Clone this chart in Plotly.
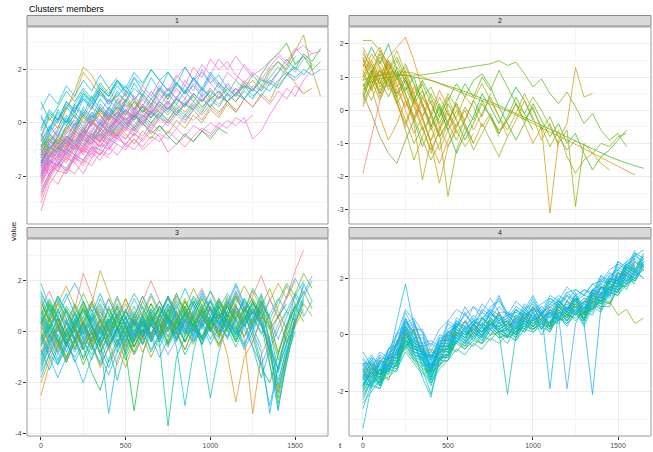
import plotly.graph_objects as go

# Sampling interval of every series (time units between consecutive values)
T_STEP = 50

# ---------------- cluster 1 ----------------
cluster1 = [
    [-1.8,-1.2,-0.9,-1.1,-0.4,-0.6,0.1,-0.3,0.2,0.5,0.1,0.4],
    [-2.6,-1.9,-1.5,-1.7,-1.2,-1.4,-0.9,-1.0,-0.6,-0.8],
    [-0.9,-0.3,0.2,-0.1,0.5,0.9,0.6,1.1,0.7,1.0,1.4,0.9,1.2],
    [-1.4,-1.6,-1.0,-0.7,-1.1,-0.5,-0.8,-0.2,-0.5,0.0,-0.3,0.3,0.0,0.4,0.1],
    [-3.3,-2.3,-1.8,-1.9,-1.3,-1.5,-1.0,-1.2,-0.7],
    [0.8,0.1,0.6,1.2,0.8,1.3,0.9,1.5,1.1,1.6,1.2,1.0],
    [-1.1,-0.6,-0.9,-0.3,0.4,0.0,0.6,0.3,-0.2,0.2,0.5,0.1,0.7,0.4,0.8,0.5,0.9],
    [-2.0,-1.4,-1.6,-1.1,-1.3,-0.8,-1.0,-0.5,-0.9,-0.4,-0.6,-0.2,-0.5,0.0,-0.3,0.1,-0.2,0.3,0.1,0.4],
    [-1.6,-0.8,-1.2,-0.6,0.0,-0.4,0.3,-0.1,0.5,0.2,0.8,0.4,1.0,0.6,1.3,0.9,1.5,1.1,1.7,1.2,1.8,1.4,1.0,1.3,0.9],
    [-0.6,0.2,-0.2,0.6,1.0,1.9,1.5,1.0,1.3,0.7,1.1,0.5,0.9],
    [-1.3,-0.7,-0.2,0.5,1.2,2.1,1.8,1.2,0.8,1.0,0.6,0.9,0.4,0.7],
    [-2.2,-1.5,-1.8,-1.2,-1.5,-1.9,-1.3,-1.0,-1.2,-0.8,-1.0,-0.6,-0.9,-0.5,-0.7,-0.3,-0.6,-0.9,-0.5,-0.2,-0.4,0.0,-0.2,0.2,0.0,0.3],
    [-1.5,-1.0,-0.6,-0.9,-0.3,-0.5,0.0,-0.2,0.3,0.1,0.5,0.2,0.6,0.4,0.8,0.5,0.9,0.7,1.1,0.8,1.2,0.9,1.3,1.0,1.4,1.2,1.6,1.5,1.9,2.4,2.0,2.6,2.3,2.8],
    [-0.7,-0.2,0.3,0.0,0.6,0.2,0.8,0.4,0.9,0.5,1.2,0.8,1.4,1.0,1.6,1.2,1.8,1.4,2.1,1.7,2.4,2.0,2.3,1.8,1.5,1.9,1.6,2.1,2.5,2.2,2.7,2.9,2.6,2.7],
    [-1.9,-1.2,-1.4,-0.8,-1.0,-0.5,-0.7,-0.2,-0.5,-0.1,-0.4,-0.8,-0.3,-0.6,-0.1,-0.4,0.1,-0.2,0.3,0.0,0.5,0.2,0.7,0.4,0.9,0.6,1.1,0.8,1.5,2.1,2.7,3.3,2.0,1.0],
    [-1.2,-0.5,-0.8,-0.2,0.1,-0.3,0.2,0.5,0.1,0.4,0.0,0.3,0.6,0.2,0.5,0.8,0.4,0.7,1.0,0.6,0.9,1.2,0.8,1.1,1.5,1.2,1.8,2.3,2.6,3.0,2.2,2.5,2.0,2.3],
    [-2.1,-1.4,-1.6,-1.0,-1.2,-0.6,-0.8,-0.3,-0.6,-0.1,0.2,-0.2,0.3,0.0,0.4,0.1,0.6,0.3,0.7,0.4,0.9,0.6,1.1,0.8,1.2,0.9,1.4,1.2,1.6,1.9,1.7,2.0,1.8,2.0],
    [-0.3,0.4,0.1,0.8,0.5,1.1,0.8,1.3,1.0,1.5,1.2,1.7,1.4,2.0,1.6,1.9,1.5,1.2,1.6,1.3,0.9,1.2,0.8,1.1,1.4,1.0,1.3,1.7,2.1,1.8,2.2,2.5,2.2],
    [-1.7,-1.1,-1.3,-0.7,-0.9,-0.4,-0.6,-0.3,-0.7,-0.4,-0.9,-0.6,-1.0,-0.7,-0.4,-0.6,-0.2,-0.5,-0.1,-0.3,0.0,-0.2,0.1,-0.1,0.2,-0.6,-0.3,0.3,0.8,1.3,1.0,1.6,2.0],
    [-1.0,-0.4,-0.7,-0.1,-0.4,0.2,-0.1,0.4,0.1,0.6,0.3,0.8,0.5,0.2,0.6,0.3,0.7,0.4,0.8,0.5,1.0,0.7,1.1,0.8,1.3,1.6,1.2,1.9,2.3,1.9,1.5,1.1,1.3],
    [-1.3,-0.9,-0.4,-0.7,-0.2,-0.5,0.1,-0.2,0.4,0.0,0.5,0.2,0.7,0.3,0.9,1.3,0.9,1.6,1.2,2.0,1.5,1.1,1.4,1.0,1.5,1.2,1.7,1.4,1.9,2.2,1.9,2.4,2.6],
    [-2.4,-1.6,-1.8,-1.3,-1.5,-1.0,-1.2,-0.7,-1.0,-0.5,-0.8,-0.4,-0.7,-0.3,-0.5,-1.1,-0.8,-0.5,-0.7,-0.3,-0.5,-0.1],
    [-0.5,0.3,0.0,0.7,0.4,1.1,0.7,1.3,1.0,1.6,1.3,1.9,1.5,2.0,1.6,1.2,1.5,1.1,1.4,1.0,1.3],
    [-1.0,-0.5,-0.1,-0.4,0.2,-0.1,0.4,0.1,0.6,0.3,0.9,0.5,1.1,0.7,1.4,1.0,1.7,2.1,1.6,2.2,1.8,2.4,2.0,2.5,2.1,1.7],
    [-1.5,-0.9,-1.1,-0.5,-0.7,-0.2,-0.5,0.0,-0.3,0.2,-0.1,0.3,0.0,-0.4,-0.1,-0.5,-0.8,-0.4,-0.7,-0.3,-0.6,-0.2,-0.4],
    [0.5,1.1,0.7,1.4,1.0,1.6,1.2,1.8,1.3,1.7],
    [-2.8,-2.0,-2.3,-1.7,-1.9,-1.4,-1.6,-1.1,-1.3],
    [-1.2,-1.8,-1.4,-0.9,-1.2,-0.6,-0.9,-0.4,-0.7,-0.2,-0.5],
    [-0.4,-1.0,-0.5,0.1,-0.3,0.4,0.0,0.6,0.2,0.7,0.3],
    [-2.0,-1.3,-0.8,-1.2,-0.7,-1.0,-0.4,-0.7,-0.2,-0.5,0.0,-0.3,0.1,-0.2],
    [-1.7,-1.0,-0.5,-0.8,-0.3,0.3,-0.1,0.6,0.2,0.8,0.4,1.0,0.6,1.2,0.8,1.3,0.9,1.4,1.0],
    [-0.8,-1.3,-0.7,-1.0,-0.5,-0.8,-0.3,-0.6,-0.1,-0.4,0.1,-0.2,0.3,0.0,0.4,0.1,0.5,0.2,0.6,0.3,0.7,0.4,0.8,0.5],
    [-3.0,-2.1,-1.6,-1.9,-1.3,-1.0,-1.3,-0.8,-1.0,-0.6,-0.8,-0.4,-0.6,-0.2],
    [-1.9,-1.3,-0.9,-1.2,-0.6,-0.9,-0.4,-0.7,-0.2,-0.5,0.0,-0.3,0.2,-0.1,0.3,0.0,0.4,0.1,0.5],
    [0.3,-0.4,0.1,0.6,0.2,0.9,0.5,1.2,0.8,1.4,1.0,1.7,1.2,0.9,1.3,1.0,1.5,1.1,1.7,1.3,1.9,1.5,1.2],
    [-1.4,-2.0,-1.5,-1.8,-1.3,-1.6,-1.1,-1.4,-0.9,-1.2,-0.8,-1.0,-0.6],
    [-0.9,-0.2,0.4,0.0,0.7,0.3,1.0,0.5,0.2,0.6,0.3,0.8,0.4,0.9,0.6,1.1,0.7,1.2,0.8,1.3,1.0,1.5,1.1,1.6,1.3,1.8,1.4,2.0,2.3,2.0,2.5],
    [-2.3,-1.6,-1.0,-1.3,-0.8,-1.1,-0.6,-0.9,-0.4,-0.6,-0.2,-0.5,0.0,-0.3,0.2,-0.1,0.3,0.0,0.5,0.1,0.6,0.3,0.8,0.4,0.9,0.6,1.0,0.7,1.2,0.9,1.4,1.1],
    [-1.5,-0.7,-0.3,0.3,-0.1,0.6,0.2,0.9,0.5,1.2,0.8,1.5,1.0,1.7,1.2,1.9,1.4,2.1,1.6,1.9,1.5,1.8,1.3],
    [-1.1,-1.6,-1.2,-0.6,-0.9,-0.3,-0.6,0.0,-0.3,0.2,-0.1,0.4,0.1,0.5,0.2,0.7,0.3,0.8,0.5,1.0,0.6,1.1,0.8,1.3,0.9,1.4,1.2,1.6,1.4,1.8,1.6,1.9],
    [-1.0,-0.4,-0.8,-0.1,0.3,-0.2,0.4,0.0,0.6,0.2,0.8],
    [-2.2,-1.7,-1.2,-1.5,-0.9,-1.1,-0.6,-0.9,-0.3,-0.6],
    [-0.2,0.5,0.1,0.8,0.4,1.0,0.6,1.2,0.7,1.1,0.8,1.3,1.0],
    [-1.5,-1.9,-1.3,-1.0,-0.6,-0.9,-0.4,-0.7,-0.2,0.1,-0.3,0.2],
    [-0.6,-1.1,-0.5,-0.8,-0.2,0.3,0.0,0.5,0.1,0.4,0.9,0.5,1.1,0.7,1.2,0.9,1.4],
    [-2.7,-2.0,-1.5,-1.1,-1.4,-0.9,-1.1,-0.6,-0.8],
    [0.2,-0.3,0.5,0.0,0.7,1.2,0.8,1.4,1.0,1.6,1.1],
    [-1.8,-1.1,-1.5,-0.9,-0.5,-0.8,-0.3,0.1,-0.2,0.3,0.0,0.5,0.2,0.6,0.3,0.8,0.5,0.9,0.6,1.1,0.8],
    [-1.2,-0.6,-1.0,-0.5,-0.8,-0.3,-0.6,0.0,-0.4,0.1,-0.2,0.3,-0.1,0.4,0.2,0.6,0.3,0.7,0.5,0.9,0.6,1.0,0.8,1.1,0.9,1.3,1.0,1.5,1.3,1.8,2.1,1.8,2.2],
    [-1.4,-0.8,-0.3,-0.7,0.0,-0.4,0.3,-0.1,0.5,0.1,0.7,0.3,0.9,0.5,1.1,0.7,1.3,0.9,1.5,1.1,1.7,1.3,1.9,1.6,2.2,1.8,2.0,2.3,2.6,2.3,2.8,2.5],
    [-2.1,-1.5,-1.1,-1.4,-0.8,-1.0,-0.5,-0.7,-0.3,-0.5,-0.1,-0.4,0.1,-0.2,0.2,0.0,0.4],
    [-0.7,-0.1,-0.5,0.2,-0.2,0.5,0.1,0.7,0.3,0.9,0.4,0.1,0.5,0.2,0.7,0.4,0.9,0.6,1.1,0.8,1.2],
    [-1.9,-1.2,-0.7,-1.0,-0.4,-0.7,-0.2,-0.5,0.0,-0.3,0.2,-0.1,0.4,0.1],
    [-1.0,-1.5,-0.9,-0.6,-1.0,-0.4,-0.1,-0.5,0.1,-0.2,0.3],
    [-1.6,-1.2,-0.6,-0.9,-0.3,-0.6,0.0,-0.3,0.3,0.0,0.5,0.2,0.7,0.3,0.8,0.5,1.0,0.6,1.1,0.8,1.3,0.9,1.5,1.1,1.6,1.3],
    [-2.0,-1.4,-1.7,-1.1,-0.8,-1.2,-0.7,-0.4,-0.8,-0.3,-0.6,-0.1],
    [-1.6,-1.0,-1.3,-0.6,-0.9,-0.3,-0.6,0.0,-0.4,0.1,-0.2,0.4,0.0,0.5],
    [-0.8,-1.4,-0.9,-0.5,-0.8,-0.2,0.1,-0.3,0.2,-0.1,0.4,0.0],
    [-2.5,-1.9,-1.5,-1.8,-1.2,-1.4,-0.9,-1.2,-0.7],
    [-1.3,-0.7,-1.0,-0.4,-0.1,-0.5,0.0,0.3,-0.1,0.4,0.1,0.6,0.2,0.7,0.4,0.9],
]
colors1 = [
    "#FF61C3","#00BFC4","#00B0F6","#F564E3","#FF6C91","#00C08B","#7CAE00","#C77CFF","#00A9FF",
    "#DE8C00","#B79F00","#FF64B0","#00BA38","#FF61C3","#A3A500","#39B600","#00A9FF","#00BFC4",
    "#F564E3","#E58700","#C77CFF","#FF64B0","#00BCD8","#E76BF3","#00BA38","#00B4F0","#FF6C91",
    "#F8766D","#00C1A3","#FD61D1","#619CFF","#7CAE00","#FF61C3","#00BFC4","#00B0F6","#F564E3",
    "#00C08B","#FF64B0","#00BCD8","#9590FF",
    "#00BFC4","#FF61C3","#00B0F6","#F564E3","#7CAE00","#FF64B0","#00BCD8","#C77CFF","#00C08B",
    "#E76BF3","#FF6C91","#00A9FF","#FD61D1","#619CFF","#FF61C3",
    "#FF61C3","#F564E3","#FF6C91","#FD61D1","#FF64B0",
]

# ---------------- cluster 2 ----------------
cluster2 = [
    [2.1,2.1,1.8,1.4,1.0,1.3,0.8,0.4,0.7,0.1,-0.4],
    [1.2,1.5,1.0,1.6,1.9,2.2,1.5,0.6,-0.2,-0.8,-0.4,0.2,-0.3],
    [0.75,0.85,0.95,1.0,1.05,1.05,1.05,1.07,1.1,1.15,1.2,1.25,1.28,1.32,1.36,1.4,1.5,1.35,1.45,1.1,0.7,0.95,0.5,0.2,0.55,0.1,-0.4,-0.1,-0.6,-0.9,-0.7,-1.1],
    [0.9,1.0,1.05,1.1,1.1,1.05,1.0,0.95,0.9,0.82,0.74,0.65,0.56,0.46,0.36,0.25,0.14,0.02,-0.1,-0.22,-0.34,-0.46,-0.58,-0.7,-0.82,-0.94,-1.06,-1.18,-1.3,-1.4,-1.5,-1.6,-1.68,-1.75],
    [0.6,0.9,1.1,1.15,1.15,1.15,1.12,1.0,0.9,0.8,0.7,0.6,0.5,0.4,0.3,0.2,0.1,-0.02,-0.15,-0.28,-0.4,-0.52,-0.65,-0.78,-0.9,-1.03,-1.16,-1.29,-1.42,-1.55,-1.68,-1.8,-1.95],
    [0.6,1.2,0.4,1.0,0.2,-0.5,0.3,-0.2,0.5,0.0,-0.6,-0.2,0.4,0.1,-0.5,-0.1,-0.7,-0.3,0.2,-0.4,-1.0,-0.5,-3.1,-0.9,-0.4,1.3,0.4,0.5],
    [1.5,0.9,0.3,1.0,0.4,-0.3,-1.0,-0.5,-1.2,-0.6,-0.1,-0.5,0.1,-0.3,0.3,-0.2,-0.6,-0.3,0.2,-0.1,0.4,0.0,-0.5,-1.0,-0.6,-2.9,-1.0,-1.3,-1.0,-1.1,-0.8,-0.7],
    [1.8,1.2,0.5,1.1,0.3,-0.6,-1.5,-0.8,-0.1,-0.7,-2.6,-1.2,-0.5,-1.0,-0.4,-0.9,-1.4,-0.8],
    [1.0,1.7,1.3,0.6,1.1,0.3,-0.4,-2.1,-0.9,-0.2,0.4,-0.3],
    [0.3,1.1,0.6,1.4,0.8,0.0,-0.7,-0.2,-1.0,-1.6,-0.9,-0.4],
    [1.3,1.9,1.4,2.0,1.2,0.6,1.0,0.2,-0.5,0.1,-0.6,-1.3,-0.7,-0.2,0.5,0.1,-0.4,0.2,0.7,0.3,-0.3],
    [-1.9,-0.8,0.3,0.9,0.5,1.0,0.4],
    [1.6,0.7,1.5,0.9,0.2,-0.4,0.3,-0.3,-0.9,-0.5,0.0,-0.6,-1.1,-0.7],
    [0.7,1.2,0.8,1.5,1.1,0.5,-0.3,-1.1,-0.5,0.2,-0.4,0.3,0.8,0.4,1.0,0.6,1.2,0.7,0.2,-0.3,0.1,-0.6,-0.2,-0.8,-1.2,-0.9],
    [0.5,-0.1,-0.8,-1.3,-1.6,-0.9,-0.3,0.2,-0.4],
    [1.4,1.0,1.6,1.2,0.5,1.0,0.4,-0.2,-1.0,-2.2,-1.1,-0.5,0.0,-0.6,-0.1,0.4,-0.2,-0.8,-0.3,0.3,-0.2,-0.9,-0.4,-1.1],
    [0.2,0.8,1.2,0.7,1.3,0.9,0.3,0.9,0.4,-0.2,0.3,0.8,0.4,0.9,1.1,0.7,0.1,-0.4,-0.9,-0.4,0.2,-0.3,-0.8,-0.4,-1.0,-0.7,-1.3,-1.8,-1.4,-1.2,-0.9,-0.6],
    [1.1,0.6,1.2,0.8,0.2,0.7,0.1,-0.6,-0.2,0.4,-0.1,-0.7,-0.3,0.3,0.8,0.3,-0.2,-0.6,-0.1,0.5,0.0,-0.5,-1.1,-0.6,-1.4,-1.9,-1.5,-1.3,-1.6,-1.8],
    [1.7,1.3,0.8,1.4,1.0,0.3,-0.2,0.4,-0.1,0.6,0.1],
    [0.9,1.4,0.9,0.4,1.0,0.5,-0.2,-0.9,-1.5,-1.0,-0.4,-0.9,-0.3,0.3,-0.2,0.5],
    [0.1,0.7,-0.2,-0.9,-0.4,0.3,-0.3,0.4,-0.1],
    [1.9,1.4,0.7,1.2,1.8,1.1,0.5,0.9],
    [1.0,1.5,1.9,1.3,0.7,1.2,0.5,-0.2,0.3,-0.5,-1.1,-0.6],
    [0.4,1.0,0.5,1.2,1.6,1.0,0.2,0.6,-0.1,-0.8,-0.3,0.2,-0.4,-1.0],
    [1.6,1.1,1.8,1.2,0.6,0.1,0.7,0.2,-0.5,-1.2,-0.6,0.0,-0.5],
    [0.8,0.3,1.0,1.5,0.9,1.4,0.8,0.1,-0.6,-0.1,0.5,0.1,-0.5,-1.2,-0.7,-0.2,-0.8],
    [1.2,0.6,1.3,0.9,1.5,0.8,0.2,-0.5,-1.3,-0.6,0.1],
    [0.5,1.1,1.7,1.1,0.4,0.9,0.3,0.8,0.2,-0.4,0.2,-0.3,-0.9,-0.4,0.2,-0.2,-0.7,-0.2,0.4,-0.1,-0.6],
]
colors2 = [
    "#7CAE00","#E58700","#5BB300","#39B600","#DE8C00","#C99800","#7CAE00","#A3A500","#B79F00",
    "#E38900","#00BA38","#F8766D","#D89000","#5BB300","#7F9030","#C49A00","#39B600","#9EA700",
    "#E58700","#6BB100","#DE8C00","#B79F00","#C99800","#6BB100","#E58700","#8FAA00","#D39200",
    "#4DB400",
]

# ---------------- cluster 3 ----------------
cluster3 = [
    [0.5,-0.3,0.6,1.3,1.9,1.2,0.4,0.9,0.1,-0.6,0.2,-0.4,0.5,1.1,0.6,1.3,0.7,0.2,0.8,1.4,0.9,0.3,1.0,0.5,1.2,0.6,-0.1,0.7,1.3,0.8,1.5,1.0],
    [-0.2,0.6,-0.3,-1.1,-0.4,0.3,-0.5,-1.3,-0.6,0.2,-0.4,0.5,0.0,0.7,-0.5,-3.7,-1.0,-0.2,0.5,-0.3,0.4,1.0,0.3,-0.4,0.3,-0.6,-1.8,-0.7,0.1,0.8,0.4],
    [1.3,0.4,1.2,0.5,-0.4,0.3,1.1,2.4,1.5,0.6,1.3,0.4,-0.3,0.5,1.2,0.5,1.3,0.8,0.2,1.0,0.4,1.2,0.6,1.5,0.9,0.3,1.1,-0.5,-2.8,-1.2,0.3,1.1,0.6],
    [-1.0,-0.2,0.5,-0.3,-1.2,-0.5,0.3,-0.4,-3.2,-1.1,-0.3,0.4,-0.2,0.6,0.1,0.9,0.3,1.0,0.4,-0.3,0.5,0.1,0.8,0.2,-0.6,0.3,0.9,-1.2,-3.1,-1.0,0.6,1.9,1.2],
    [0.2,1.1,0.6,-0.1,0.7,1.5,0.8,0.0,0.9,0.3,-0.5,0.4,1.2,0.5,-0.2,0.6,1.4,0.9,1.7,1.0,0.4,1.2,0.6,1.4,0.7,0.2,1.0,1.7,0.8,0.1,1.5,2.3,1.7],
    [-0.6,0.2,-0.5,0.4,-0.3,-1.0,-0.2,0.5,-0.4,0.1,-0.8,-3.1,-0.9,0.3,-0.3,0.6,0.0,-0.7,0.1,0.8,0.2,1.0,0.3,-0.4,0.5,1.2,0.4,-0.8,-2.4,-0.9,0.4,1.2],
    [0.9,1.6,0.8,0.1,0.9,2.3,1.4,0.6,1.3,0.5,1.1,0.3,1.2,2.0,1.2,0.4,1.0,0.3,1.1,1.7,0.9,0.2,0.8,1.5,0.7,1.4,2.2,1.3,0.5,1.3,2.4,3.2],
    [-1.5,-0.6,-1.2,-0.4,-1.1,-2.0,-1.0,-0.3,-1.2,-0.5,0.2,-0.6,0.1,-0.7,-0.1,0.6,-0.2,0.5,-0.3,0.3,-0.5,0.2,0.8,0.1,-0.7,0.0,-1.2,-2.9,-1.4,-0.5,0.3],
    [0.0,-0.8,0.1,0.9,0.2,-0.5,0.3,1.0,0.2,-0.4,0.4,-0.3,0.5,-0.2,0.7,1.4,0.6,1.3,0.5,-0.2,0.6,1.3,0.7,0.0,0.8,1.6,0.9,0.2,1.0,1.8,1.1],
    [-2.5,-1.3,-0.5,-1.2,-0.4,0.3,-0.5,-1.4,-0.6,0.1,-0.7,0.0,-0.8,-0.1,0.6,-0.2,0.5,-0.4,0.3,-0.3,0.4,-0.2,0.5,1.1,-0.3,-3.2,-0.9,-0.2,0.6,-0.4,0.2,0.9],
    [0.6,-0.2,0.5,-0.4,0.4,1.2,0.3,-0.5,0.2,1.0,0.3,-0.6,0.1,-0.8,-0.1,0.7,0.0,-0.9,-0.2,0.6,1.2,0.4,-0.3,0.5,1.3,0.7,1.4,0.2,-1.6,-0.4,0.5],
    [1.6,0.8,0.0,0.8,0.1,0.9,0.2,-0.6,0.3,1.1,0.5,1.3,0.6,-0.1,0.7,1.4,0.8,0.1,0.9,1.6,0.9,0.3,1.0,1.8,1.0,0.4,1.1,0.5,-0.3,0.6,1.4,0.7],
    [-0.4,0.5,-0.2,-1.0,-0.3,-1.3,-0.5,0.2,-0.6,0.1,-0.9,-0.2,0.5,-0.3,0.4,-0.4,0.3,1.0,0.2,0.9,0.1,0.7,0.0,0.8,0.2,0.9,0.3,-0.6,-1.5,0.0,1.0,0.4],
    [0.3,1.0,0.2,-0.5,0.4,-0.3,0.6,-0.1,0.5,-0.2,0.0,0.7,-0.1,0.6,-0.2,0.5,-0.6,-2.9,-0.8,0.5,1.2,0.5,-0.2,0.6,1.3,0.6,1.5,0.5,-0.9,0.3,1.1,0.6,1.2],
    [-1.8,-0.9,-0.1,-0.8,0.0,-0.7,0.1,-0.6,-1.4,-0.5,0.3,-0.4,0.4,-0.2,-1.0,-0.3,0.4,-0.4,0.3,-0.5,0.2,-0.3,0.5,-0.1,0.6,0.0,-0.8,-3.2,-1.3,-0.2,0.7],
    [1.0,0.2,1.1,1.8,1.0,0.3,1.1,0.4,-0.3,0.5,1.3,0.6,1.4,0.7,0.0,0.8,1.5,0.8,0.2,0.9,1.6,1.0,0.3,1.1,1.8,1.2,0.5,1.2,1.9,1.3,2.0],
    [-0.9,-0.1,-0.8,0.0,0.8,0.0,-0.7,0.1,-0.6,-1.9,-0.7,0.1,-0.5,0.3,-0.4,0.4,-0.3,0.5,-0.1,0.6,0.0,0.7,0.1,-0.6,0.2,0.8,0.3,-1.3,-2.6,-1.0,0.0],
    [0.4,-0.5,-1.3,-0.6,0.2,-0.7,0.0,-0.9,-1.7,-0.8,-0.1,-0.9,-0.2,0.6,-0.1,0.7,0.0,0.8,0.1,0.9,0.2,-0.5,0.3,1.0,0.4,1.1,0.5],
    [-0.3,0.4,1.1,0.3,1.0,0.2,-0.6,0.1,0.9,0.1,0.8,0.0,0.7,-0.1,0.6,1.3,0.5,-0.2,0.6,1.3,0.6,-0.1,0.7,0.1,0.9,0.2,1.0,0.2,-1.1,-0.2,0.8,1.6,0.9],
    [1.9,1.0,0.2,0.9,0.1,-0.7,0.1,0.8,0.0,-0.8,0.0,0.7,-0.1,0.6,-0.2,0.5,-0.3,0.4,1.1,0.4,-0.3,0.5,1.2,0.5,-0.2,0.6,0.0],
    [-1.2,-0.4,0.3,-0.5,0.2,-0.6,-1.6,-2.3,-1.1,-0.3,-1.1,-0.3,0.4,-0.4,0.3,-0.5,0.2,-0.4,0.4,-0.3,0.5,-0.2,0.6,-0.1,0.7,-0.2,-1.4,-2.0,-0.9,0.2,1.0],
    [0.1,0.9,0.2,-0.6,0.3,1.1,0.2,-0.5,0.4,1.3,0.5,-0.2,0.6,1.4,0.7,0.0,0.8,0.1,-0.5,0.3,1.0,0.3,1.1,0.4,-0.2,0.5,1.3,0.4,-0.8,0.3],
    [-0.7,-1.5,-0.6,0.1,-0.7,0.2,-0.5,-1.2,-0.3,0.4,0.3,-0.4,0.4,-0.3,0.5,-0.2,0.6,-0.1,0.7,-0.6,-2.6,-0.8,0.3,0.1,1.0,0.2,-0.6],
    [0.8,0.0,0.8,1.5,0.7,0.0,0.7,-0.1,0.6,1.4,0.6,-0.1,0.7,1.5,0.8,0.1,0.9,1.7,1.0,0.2,1.0,0.3,1.1,1.9,1.1,0.4,1.2,0.6],
    [-0.1,-0.9,-0.2,0.5,-0.3,0.4,-0.4,0.3,-0.5,0.2,-0.6,0.1,-0.4,0.4,-0.2,-0.9,-0.3,0.5,-0.2,0.6,0.0,0.8,0.2,1.0,0.3,-0.4,0.5,1.3,0.6,1.4,2.1,1.5,2.2],
    [1.2,0.4,-0.4,0.3,1.1,0.4,-0.4,0.2,-0.6,0.1,0.9,0.2,-0.5,0.3,1.0,0.3,-0.4,0.4,1.2,0.6,1.3,0.6,0.0],
    [-2.0,-1.1,-0.3,-1.0,-0.2,0.6,-0.1,-0.9,-0.1,0.7,-0.1,-0.9,-0.2,0.6,-0.1,0.7,0.0,-0.7,0.1,0.8,0.1,-0.6,0.2,0.9],
    [0.5,1.3,0.6,-0.2,0.5,1.2,0.5,-0.3,0.4,-0.5,0.3,1.0,0.3,-0.4,0.4,1.1,0.4,1.2,0.5,-0.2,0.6,1.3,0.6,1.4,0.7,0.0,0.8,-0.3,-2.1,-0.5,0.9,1.8],
    [-0.5,0.3,-0.4,-1.2,-0.4,0.4,-0.3,0.5,-0.2,0.6,-0.1,-0.8,0.0,0.8,0.0,0.9,0.1,0.9,0.2,-0.5,0.3,1.0,0.4,-0.3,0.5,1.2,0.6],
    [0.7,-0.1,-0.9,-0.1,0.7,-0.1,0.7,1.5,0.7,-0.1,0.6,-0.2,0.6,-0.2,0.6,1.4,0.6,-0.1,0.7,1.5,0.8,0.0,0.8,1.6,0.9,0.1,0.9],
    [-1.4,-0.6,0.2,-0.6,0.1,-0.7,0.0,-0.8,-0.1,0.7,-0.1,0.6,-0.2,-1.0,-0.2,0.6,-0.1,0.7,0.0,0.8,0.1,-0.5,0.2,0.9,0.3,1.0,0.4],
    [0.0,0.7,1.4,0.7,0.0,0.8,0.0,-0.8,0.0,0.8,0.1,-0.6,0.1,0.9,0.2,1.0,0.3,-0.4,0.3,1.1,0.4,1.2,0.5,-0.2],
    [-0.8,0.0,-0.7,0.1,-0.6,0.3,-0.5,0.4,-0.4,-1.3,-0.4,0.5,-0.3,0.6,-0.2,0.7,-0.1,0.8,0.0,0.9,0.1,0.2,-0.9,-2.75,-1.0,-0.4,0.6,-0.9,-2.4,-0.8,0.5],
    [1.4,0.6,1.3,0.5,-0.3,0.4,1.2,0.4,1.3,0.5,-0.2,0.6,1.4,0.6,-0.1,0.7,1.5,0.7,0.0,0.8,1.6,0.8],
    [-0.2,-1.0,-1.8,-1.0,-0.2,-1.1,-0.3,0.5,-0.3,0.5,-0.4,0.4,-0.5,0.4,-0.4,0.5,-0.3,0.6,-0.2,0.7,0.0,0.8,0.1,0.9],
    [0.3,1.1,0.3,-0.5,0.2,1.0,0.2,-0.6,0.2,1.0,0.2,-0.6,0.3,1.1,0.3,-0.5,0.4,1.2,0.5,1.3,0.6,-0.1,0.7],
    [-1.1,-0.3,-1.1,-0.3,0.5,-0.3,-1.1,-0.3,0.5,-0.2,0.6,-0.2,0.6,-0.1,0.7,0.0,0.8,0.0,0.8,0.1,0.9,0.2,1.0,0.3,-0.5,0.4,1.2,-0.4,-3.0,-1.2,0.3,1.3],
    [0.9,0.1,0.9,0.1,-0.7,0.1,0.9,0.1,1.0,0.2,-0.6,0.2,1.0,0.2,1.0,0.3,1.1,0.3,-0.4,0.4,1.2,0.5,1.3,0.6],
    [-0.3,0.2,0.8,0.3,-0.2,0.4,1.0,0.6,0.1,0.7,0.3,-0.3,0.2,0.9,0.4,1.1,0.5,0.0,0.6,0.3,0.9,0.5,1.2,0.7,0.2,0.8,0.3,-0.4,-1.5,0.2,1.0,1.5],
    [0.7,1.2,0.5,-0.2,0.3,0.9,0.2,-0.3,0.5,0.1,0.8,0.3,-0.2,0.4,0.9,0.5,0.2,0.7,1.2,0.6,0.1,0.5,1.0,0.4,0.8,1.3,0.7,0.1,0.6,1.1],
    [-1.6,-0.9,-1.3,-0.5,0.1,-0.4,-0.9,-0.2,0.3,-0.3,-0.8,-0.1,0.4,-0.2,-0.6,0.2,-0.1,0.5,0.1,-0.4,0.3,0.7,0.2,-0.2,0.4,0.9,0.5,-0.5,-1.9,-0.7,0.4],
    [0.2,-0.4,0.3,0.8,0.2,-0.5,-0.1,0.6,0.1,-0.6,-1.4,-0.4,0.3,-0.2,0.5,0.0,0.6,0.2,0.8,0.3,1.0,0.5,1.4,0.8,0.3,0.9,0.4],
    [1.1,0.5,1.4,0.8,0.2,0.9,0.4,1.3,0.7,0.2,0.8,1.5,0.9,0.4,1.0,0.5,1.2,0.6,1.4,0.9,0.3,1.1,0.6,1.3,0.8,1.7,1.1,0.5,1.2,1.9,1.4,2.0],
    [-0.9,-0.4,0.2,-0.3,-0.8,-0.2,0.4,-0.1,-0.7,0.0,0.5,-0.2,0.3,-0.4,0.2,0.6,0.0,0.5,-0.1,0.4,0.9,0.3,-0.2,0.5,0.1,-0.6,-1.3,-0.5,0.3,0.8],
    [0.4,0.9,0.3,-0.3,0.1,0.6,1.2,0.5,0.0,0.4,-0.2,0.3,0.8,0.2,0.7,0.1,0.5,1.0,0.4,0.8,0.2,0.6,1.1,0.5,0.9,0.3],
    [-0.5,0.1,-0.6,-0.1,0.5,-0.2,-0.7,0.0,-0.5,0.2,-0.3,0.4,-0.1,0.5,0.0,-0.6,0.1,0.6,0.2,-0.3,0.3,0.8,0.4,0.0,0.5,0.9,0.3,-0.7,-2.2,-0.8,0.5,1.4,2.0],
    [1.5,0.9,0.4,1.0,0.5,-0.1,0.5,1.1,0.4,0.9,0.3,0.8,0.2,0.7,1.2,0.6,0.1,0.7,1.3,0.8,0.4,0.9,1.5,1.0,0.5,1.1,0.7],
    [-1.3,-0.5,0.1,-0.5,-1.0,-0.4,0.2,-0.4,0.1,-0.6,-0.1,0.5,-0.2,0.3,-0.3,0.2,0.7,0.1,-0.4,0.2,0.6,0.0,0.5,-0.1,0.3,0.8,0.2],
]
colors3 = [
    "#00BFC4","#00C08B","#B79F00","#00B4F0","#7CAE00","#00BA38","#F8766D","#00BCD8","#A3A500",
    "#E58700","#00C1A3","#35A2FF","#39B600","#00BFC4","#00A9FF","#C99800","#00C08B","#00B0F6",
    "#7CAE00","#00BCD8","#00BA38","#B79F00","#00C0B8","#00B4F0","#619CFF","#00C08B","#A3A500",
    "#00BFC4","#00BA38","#00A9FF","#7CAE00","#00C1A3","#E38900","#00BCD8","#00B4F0","#39B600",
    "#00BFC4","#00C08B",
    "#00B4F0","#00BA38","#00BCD8","#B79F00","#00C08B","#35A2FF","#7CAE00","#00BFC4","#00C1A3",
    "#00A9FF",
]

# ---------------- cluster 4 ----------------
cluster4 = [
    [-1.3,-0.8,-1.4,-0.5,-0.4,0.6,-0.2,-0.3,-1.0,-0.1,0.0,0.4,0.3,0.6,0.3,0.7,0.6,0.3,0.9,0.6,1.0,0.7,1.1,0.9,1.4,1.0,1.3,1.2,1.9,1.8,2.4,2.2,2.8,2.6],
    [-1.9,-1.3,-1.8,-1.0,-1.1,-0.1,-0.7,-0.9,-1.6,-0.8,-0.8,-0.1,-0.3,0.1,-0.2,0.3,0.0,-0.3,0.3,0.1,0.6,0.0,0.5,0.4,0.8,0.5,0.8,0.7,1.4,1.1,1.9,1.6,2.2,2.0],
    [-3.3,-1.8,-1.9,-1.1,-1.0,0.1,-0.6,-0.7,-1.4,-0.5,-0.6,0.1,-0.1,0.2,0.0,0.4,0.3,-0.1,0.5,0.2,0.9,0.2,0.7,0.6,1.0,0.8,1.1,1.0,1.7,1.3,2.2,1.9,2.5],
    [-1.0,-1.4,-0.7,-0.9,0.5,1.8,0.3,0.1,-0.8,-0.2,-0.2,0.5,0.3,0.7,0.4,0.9,0.7,0.4,0.9,0.6,1.2,0.7,1.3,1.0,1.4,1.2,1.6,1.4,2.1,1.8,2.6,2.3,2.9,2.7],
    [-1.5,-1.9,-1.2,-1.4,-0.5,-0.4,-0.2,-1.2,-2.1,-0.8,-0.7,0.1,-0.2,0.4,-0.1,0.5,0.1,-0.1,0.6,0.4,0.7,0.2,0.9,0.5,1.2,0.7,1.2,0.9,1.5,1.5,2.0,1.8,2.3],
    [-1.8,-1.1,-1.7,-0.7,-0.6,0.4,-0.3,-0.4,-1.3,-0.4,-0.4,0.3,0.0,0.2,0.1,0.6,0.1,-2.1,0.0,0.8,0.3,0.8,0.3,1.1,0.6,1.3,0.5,1.5,1.1,2.0,1.8,2.4,2.3,2.5],
    [-1.2,-1.6,-0.9,-1.2,-0.3,-0.1,0.1,-0.7,-0.7,-0.8,0.0,0.0,0.5,0.0,0.6,0.3,0.8,0.1,0.7,0.5,1.0,0.5,1.0,0.7,-1.9,0.4,1.0,0.8,1.7,1.5,2.2,1.9,2.6,2.4],
    [-2.2,-1.6,-1.8,-1.1,-1.2,-0.2,-0.7,-0.8,-1.5,-0.8,-0.8,-0.1,-0.4,0.1,-0.2,0.3,0.0,0.2,-0.1,0.5,0.2,0.5,0.2,0.8,0.5,0.9,0.4,-2.1,1.0,1.0,1.8,1.7,2.3,2.0],
    [-0.6,-1.1,-0.8,-0.9,0.0,0.3,0.5,-0.4,-0.3,-0.5,0.4,0.2,0.8,0.3,0.9,0.7,1.3,0.6,1.0,0.8,1.3,0.7,1.2,1.0,1.5,1.2,1.4,1.3,2.0,1.8,2.5,2.3,2.9,2.4],
    [-1.6,-1.0,-1.6,-1.0,-0.7,0.2,-0.5,-0.6,-1.2,-0.6,-0.6,0.1,-0.1,0.4,0.1,0.4,0.3,0.5,0.0,0.6,0.4,0.7,0.3,1.0,0.7,1.1,0.6,1.3,1.2,1.7,1.7,2.2,2.0,2.5],
    [-1.4,-1.7,-1.0,-1.3,-0.5,-0.5,0.2,-0.8,-0.7,-0.9,0.0,-0.1,0.3,-0.1,0.4,0.2,0.7,0.1,0.6,0.3,0.8,0.4,0.9,0.6,1.1,0.8,1.2,1.1,1.7,1.4,2.2,2.1,2.6,2.3],
    [-2.0,-1.4,-1.5,-0.8,-0.8,0.0,-0.5,-0.6,-1.4,-0.6,-0.5,0.1,-0.2,0.3,0.0,0.4,0.1,0.3,0.0,0.6,0.3,0.6,0.3,0.9,0.6,1.0,0.5,1.2,1.0,1.7,1.5,2.1,1.9,2.6],
    [-1.1,-0.7,-1.2,-0.6,-0.5,0.5,-0.1,-0.1,-0.9,-0.2,-0.2,0.5,0.2,0.5,0.3,0.8,0.5,0.8,0.5,1.1,0.8,1.0,0.7,1.3,0.8,1.5,0.9,1.6,1.5,2.1,1.9,2.5,2.3,2.9],
    [-1.7,-1.3,-1.7,-1.0,-1.0,0.1,-0.6,-0.7,-1.5,-0.7,-0.7,0.0,-0.3,0.1,-0.1,0.4,0.1,0.2,0.0,0.5,0.3,0.5,0.3,0.8,0.6,1.1,0.5,1.3,1.1,1.7,1.6,2.2,1.9,2.4],
    [-1.5,-1.1,-1.6,-0.9,-0.9,0.0,-0.5,-0.5,-1.2,-0.5,-0.5,0.2,-0.1,0.3,0.1,0.5,0.2,0.4,0.1,0.7,0.4,0.6,0.3,0.9,0.6,1.1,0.6,1.2,0.9,1.2,0.7,0.9,0.4,0.6],
    [-1.3,-1.8,-1.0,-1.2,-0.2,0.0,0.2,-0.7,-0.6,-0.7,0.1,0.0,0.5,0.1,0.6,0.3,0.8,0.2,0.7,0.4,1.0,0.5,0.9,0.7,1.2,0.9,1.2,1.1,1.7,1.6,2.3,2.1,2.7],
    [-2.6,-1.7,-1.9,-1.2,-1.3,-0.3,-0.9,-1.0,-1.8,-0.9,-0.9,-0.2,-0.4,-0.1,-0.3,0.2,-0.1,0.0,-0.2,0.4,0.1,0.3,0.1,0.7,0.3,0.8,0.3,1.0,0.8,1.5,1.4,2.0,1.8],
    [-0.8,-1.3,-0.9,-1.1,-0.2,0.2,0.4,-0.3,-0.2,-0.4,0.5,0.3,1.0,0.5,1.1,0.8,1.4,0.7,1.2,0.9,1.4,0.8,1.4,1.2,1.7,1.4,1.6,1.5,2.1,1.9,2.6,2.4,3.0],
    [-1.9,-1.2,-1.4,-1.0,-0.9,0.3,-0.4,-0.5,-1.3,-0.6,-0.5,0.2,0.0,0.2,0.0,0.5,0.2,0.4,0.1,0.6,0.5,0.7,0.4,1.0,0.7,1.2,0.7,1.4,1.2,1.8,1.7,2.3,2.1,2.6],
    [-1.6,-1.2,-1.4,-0.7,-0.7,0.1,-0.5,-0.6,-1.2,-0.4,-0.4,0.3,0.0,0.4,0.1,0.6,0.3,0.5,0.2,0.8,0.5,0.8,-1.9,0.8,0.8,1.3,0.8,1.4,1.3,1.9,1.8,2.4,2.2,2.7],
    [-1.0,-1.5,-0.8,-1.1,-0.3,0.8,0.2,0.2,-0.6,0.0,-0.1,0.6,0.4,1.0,0.8,1.3,0.8,0.8,0.3,0.8,0.5,0.8,0.5,1.1,0.8,1.3,0.8,1.5,1.4,2.0,1.9,2.5],
    [-2.3,-1.6,-1.7,-1.1,-1.1,-0.1,-0.7,-0.8,-1.6,-0.8,-0.7,0.0,-0.2,0.1,-0.1,0.4,0.1,0.3,0.0,0.6,0.3,0.6,0.3,0.9,0.5,1.0,0.5,1.2,1.1,1.7,1.6,2.2,2.0,2.5],
    [-1.4,-1.0,-1.5,-0.8,-0.8,0.2,-0.4,-0.4,-1.1,-0.4,-0.4,0.3,0.0,0.4,0.1,0.6,0.4,0.5,0.2,0.8,0.5,0.7,0.4,1.1,0.8,1.3,0.7,1.5,1.3,1.9,1.8,2.4,2.2,2.8],
    [-1.7,-1.8,-1.2,-1.3,-0.5,-0.4,-0.1,-1.1,-1.0,-1.1,-0.2,-0.3,0.2,-0.2,0.3,0.0,0.5,-0.1,0.4,0.2,0.8,0.2,0.8,0.5,1.0,0.7,1.0,0.9,1.5,1.4,2.1,1.8,2.4],
    [-1.2,-0.8,-1.0,-0.5,-0.3,0.6,0.0,0.0,-0.8,-0.1,-0.2,0.4,0.1,0.5,0.3,0.8,0.5,0.7,0.4,1.0,0.6,0.9,0.6,1.2,0.9,1.4,0.9,1.6,1.4,2.0,1.9,2.6,2.4],
    [-2.0,-1.5,-1.7,-1.2,-1.1,-0.2,-0.8,-0.9,-1.7,-1.0,-0.9,-0.2,-0.5,0.0,-0.3,0.2,-0.1,0.1,-0.1,0.4,0.2,0.4,0.1,0.7,0.4,0.8,0.4,1.1,0.9,1.6,1.5,2.1,1.8],
    [-1.5,-0.9,-1.4,-0.8,-0.7,0.3,-0.3,-0.4,-1.1,-0.3,-0.3,0.4,0.2,0.5,0.2,0.8,0.4,0.6,0.3,0.9,0.6,0.8,0.6,1.2,0.9,1.4,0.8,1.6,1.4,2.0,1.9,2.5,2.3,2.8],
    [-1.8,-1.3,-1.8,-1.0,-1.0,-0.1,-0.6,-1.5,-2.2,-0.9,-0.7,0.0,-0.3,0.2,-0.1,0.4,0.1,0.2,0.0,0.5,0.2,0.5,0.2,0.8,0.5,1.0,0.5,1.2,1.0,1.6,1.5,2.1,1.9,2.4],
    [-1.1,-1.5,-0.9,-1.0,-0.2,0.0,0.2,-0.6,-0.5,-0.7,0.1,0.0,0.5,0.0,0.6,0.3,0.8,0.2,0.7,0.5,1.0,0.5,1.0,0.8,1.2,1.0,1.3,1.1,1.8,1.6,2.2,2.1,2.6,2.3],
    [-1.6,-1.3,-1.5,-1.0,-0.8,0.2,-0.4,-0.5,-1.2,-0.5,-0.5,0.2,-0.1,0.3,0.0,0.5,0.2,0.4,0.1,0.7,0.4,0.7,0.4,1.0,0.7,1.2,0.7,1.4,1.2,1.8,1.7,2.3,2.1,2.6],
    [-0.9,-1.2,-0.6,-0.8,0.1,0.4,0.6,0.1,-0.4,0.2,0.5,0.9,0.7,1.0,0.6,0.9,0.5,0.7,0.4,0.8,0.6,1.0],
    [-2.4,-2.0,-1.6,-1.5,-1.2,-0.6,-1.0,-1.4,-1.2,-0.9,-0.4,-0.6,-0.2,-0.4,0.0,-0.2,0.2,0.0,0.3,0.1,0.5],
    [-1.3,-0.9,-1.3,-0.5,0.0,0.9,0.5,-0.5,-0.9,-0.3,0.1,0.3,0.0,0.4,0.5,1.0,1.2,0.8,0.6,0.9,1.1,0.7,1.1,1.4,1.2,1.6,1.4,1.8,1.9,2.3,2.5],
    [-1.7,-1.4,-1.0,-1.3,-0.8,-0.5,-0.9,-1.3,-1.7,-1.2,-0.9,-0.5,-0.7,-0.3,-0.5,-0.1,-0.3,0.0,-0.2,0.2,0.1,0.4,0.2,0.6,0.4,0.8,0.6,1.0,1.2,1.4,1.7,1.9,2.1,2.3],
    [-1.0,-1.0,-1.4,-0.7,-0.3,0.5,0.1,-0.9,-1.2,-0.5,0.1,0.3,0.7,0.4,0.8,0.6,1.0,0.7,0.8,0.6,0.9,0.8,1.0,1.2,0.9,1.3,1.1,1.6,1.8,2.2,2.0,2.5,2.7,2.4],
    [-2.1,-1.6,-1.2,-1.6,-0.9,-0.4,-0.8,-1.2,-1.3,-1.1,-0.7,-0.3,-0.5,-0.2,-0.3,0.0,0.1,-0.1,0.1,0.3,0.2,0.4,0.3,0.5,0.7,0.6,0.8,0.9,1.2,1.1,1.6,1.8,2.0],
    [-1.4,-1.5,-1.0,-0.9,-0.4,0.3,-0.1,-0.6,-0.8,-0.4,0.2,0.4,0.1,0.5,0.6,0.4,0.7,0.5,0.9,0.7,0.9,1.1,1.3,1.1,1.5,1.6,1.4,1.8,1.6,2.1,2.3,2.6,2.8,3.0],
    [-1.8,-1.2,-1.1,-1.4,-1.0,-0.2,-0.4,-0.9,-0.7,-0.9,-0.6,-0.2,0.1,-0.1,0.3,0.0,0.3,0.4,0.2,0.5,0.3,0.6,0.8,0.5,0.9,0.7,1.1,0.9,1.3,1.5,1.4,1.8,2.0],
    [-1.2,-1.7,-1.5,-1.0,-0.6,-0.3,-0.6,-0.8,-1.3,-0.6,-0.1,-0.3,0.3,0.2,0.4,0.2,0.6,0.3,0.5,0.2,0.6,0.4,0.8,0.6,0.5,0.9,1.2,1.4,1.7,1.6,2.0,2.2,2.4],
    [-1.5,-1.3,-0.9,-1.2,-0.6,0.1,0.3,-0.3,-0.8,-0.9,-0.3,-0.1,0.2,0.3,0.1,0.2,0.4,0.6,0.2,0.4,0.7,0.5,0.8,0.6,0.9,0.8,1.2,1.0,1.5,1.4,1.9,2.1,2.2,2.5],
]
colors4 = [
    "#00B4F0","#00BFC4","#00BCD8","#00BCD8","#00C08B","#00C1A3","#35A2FF","#00A9FF","#00B0F6",
    "#00BA38","#00BFC4","#00B4F0","#00BCD8","#00C08B","#7CAE00","#00A9FF","#00BFC4","#35A2FF",
    "#00C1A3","#00B4F0","#619CFF","#00BCD8","#00BA38","#00B0F6","#00BFC4","#00C08B","#00A9FF",
    "#00BCD8","#A3A500","#00B4F0",
    "#35A2FF","#00C08B","#00B0F6","#00BFC4","#00A9FF","#39B600","#00BCD8","#00C1A3","#00B4F0",
    "#619CFF",
]

# Tick labels
x_ticks = [0, 500, 1000, 1500]
y_ticks = [[-2, 0, 2], [-3, -2, -1, 0, 1, 2], [-4, -2, 0, 2], [-2, 0, 2]]
strip_labels = ["1", "2", "3", "4"]

W, H = 653, 452
# panel boxes in pixels: (left, right, top, bottom)
boxes = [(27, 328, 27, 224), (349, 651, 27, 224), (27, 328, 239, 436), (349, 651, 239, 436)]
y_ranges = [[-3.79, 3.6], [-3.43, 2.51], [-4.09, 3.64], [-3.57, 3.39]]
x_range = [-82, 1694]

fig = go.Figure()
data = [(cluster1, colors1), (cluster2, colors2), (cluster3, colors3), (cluster4, colors4)]
for p, (series, cols) in enumerate(data):
    sfx = "" if p == 0 else str(p + 1)
    for i, vals in enumerate(series):
        t = [k * T_STEP for k in range(len(vals))]
        fig.add_trace(go.Scatter(
            x=t, y=vals, mode="lines",
            line=dict(color=cols[i % len(cols)], width=0.7),
            xaxis="x" + sfx, yaxis="y" + sfx, hoverinfo="skip", showlegend=False,
        ))

layout = dict(
    width=W, height=H, margin=dict(l=0, r=0, t=0, b=0),
    paper_bgcolor="white", plot_bgcolor="white",
    font=dict(family="Liberation Sans, Arial, sans-serif", color="#4D4D4D", size=7),
    shapes=[], annotations=[],
)

for p, (l, r, t, b) in enumerate(boxes):
    sfx = "" if p == 0 else str(p + 1)
    bottom_row = p >= 2
    xd = [l / W, r / W]
    yd = [1 - b / H, 1 - t / H]
    layout["xaxis" + sfx] = dict(
        domain=xd, anchor="y" + sfx, range=x_range,
        tickvals=x_ticks if bottom_row else [], ticktext=[str(v) for v in x_ticks] if bottom_row else [],
        ticks="outside" if bottom_row else "", ticklen=3, tickcolor="#333333", tickwidth=0.8,
        showgrid=True, gridcolor="#EBEBEB", gridwidth=0.8,
        minor=dict(tickvals=[250, 750, 1250], showgrid=True, gridcolor="#F5F5F5", gridwidth=0.5),
        zeroline=False, showline=False, tickfont=dict(size=7, color="#4D4D4D"),
    )
    yt = y_ticks[p]
    minor_y = [v + 0.5 * (yt[1] - yt[0]) for v in [yt[0] - (yt[1] - yt[0])] + yt]
    layout["yaxis" + sfx] = dict(
        domain=yd, anchor="x" + sfx, range=y_ranges[p],
        tickvals=yt, ticktext=[str(v) for v in yt],
        ticks="outside", ticklen=3, tickcolor="#333333", tickwidth=0.8,
        showgrid=True, gridcolor="#EBEBEB", gridwidth=0.8,
        minor=dict(tickvals=minor_y, showgrid=True, gridcolor="#F5F5F5", gridwidth=0.5),
        zeroline=False, showline=False, tickfont=dict(size=7, color="#4D4D4D"),
    )
    # panel border
    layout["shapes"].append(dict(type="rect", xref="paper", yref="paper",
                                 x0=xd[0], x1=xd[1], y0=yd[0], y1=yd[1],
                                 line=dict(color="#9A9A9A", width=1), fillcolor="rgba(0,0,0,0)", layer="above"))
    # facet strip
    s_top, s_bot = t - 11.5, t - 1
    layout["shapes"].append(dict(type="rect", xref="paper", yref="paper",
                                 x0=xd[0], x1=xd[1], y0=1 - s_bot / H, y1=1 - s_top / H,
                                 line=dict(color="#8C8C8C", width=1), fillcolor="#D9D9D9"))
    layout["annotations"].append(dict(text=strip_labels[p], xref="paper", yref="paper",
                                      x=(xd[0] + xd[1]) / 2, y=1 - (s_top + s_bot) / 2 / H,
                                      showarrow=False, xanchor="center", yanchor="middle",
                                      font=dict(size=7, color="#1A1A1A")))

layout["annotations"] += [
    dict(text="Clusters' members", xref="paper", yref="paper", x=27 / W, y=1 - 9 / H,
         showarrow=False, xanchor="left", yanchor="middle", font=dict(size=9, color="#000000")),
    dict(text="value", xref="paper", yref="paper", x=14 / W, y=1 - 231 / H, textangle=-90,
         showarrow=False, xanchor="center", yanchor="middle", font=dict(size=8, color="#1A1A1A")),
    dict(text="t", xref="paper", yref="paper", x=340 / W, y=1 - 445 / H,
         showarrow=False, xanchor="center", yanchor="middle", font=dict(size=8, color="#1A1A1A")),
]

fig.update_layout(**layout)
fig.write_html("out.html")
